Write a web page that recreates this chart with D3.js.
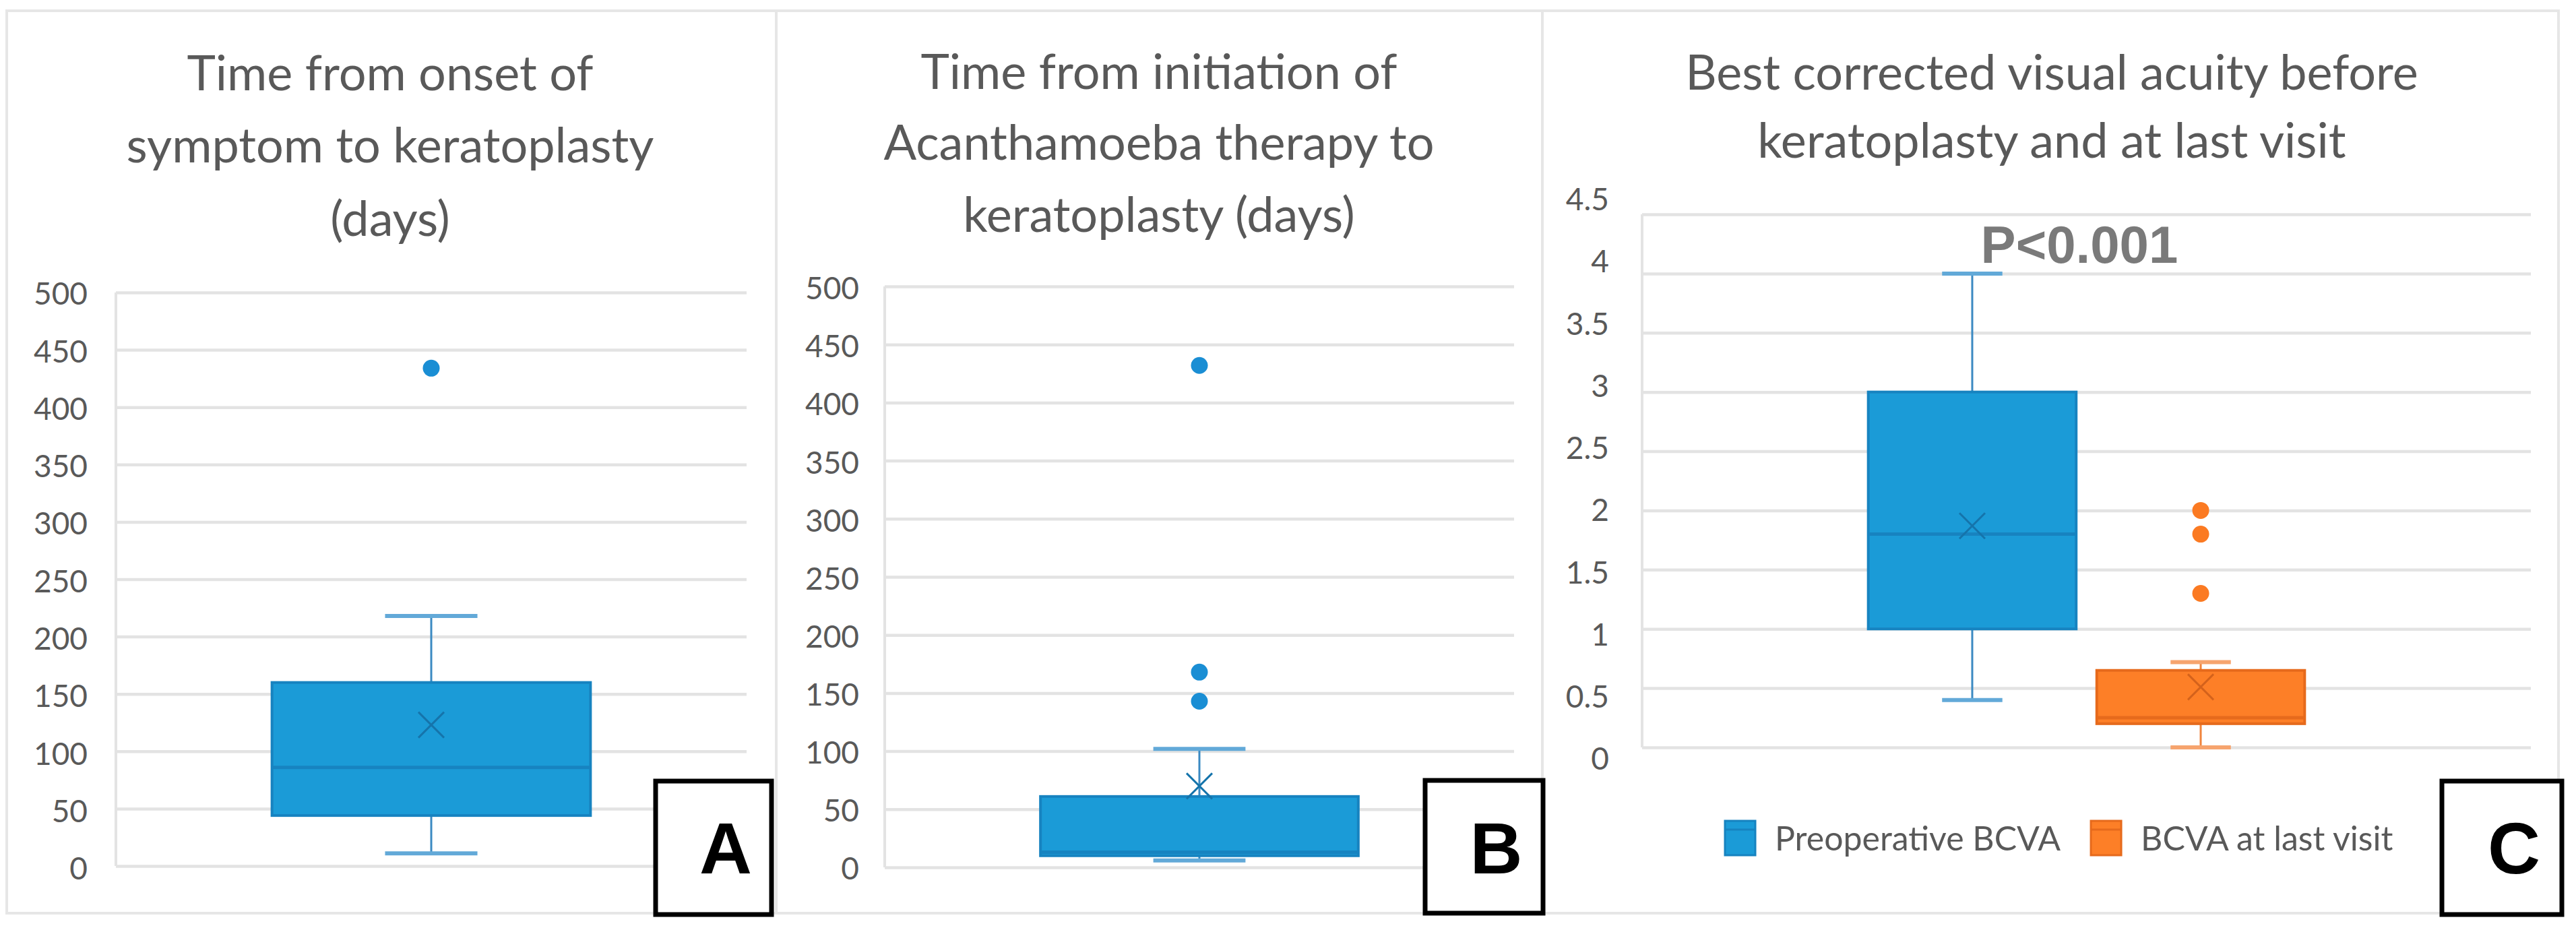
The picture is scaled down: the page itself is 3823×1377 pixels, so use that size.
<!DOCTYPE html>
<html>
<head>
  <meta charset="UTF-8">
  <style>
    body { margin: 0; background: #fff; }
    svg text { font-family: Lato, "Open Sans", sans-serif; }
  </style>
</head>
<body>
<svg></svg>
<script src="https://d3js.org/d3.v7.min.js"></script>
<script>

    let width = 3823;
    let height = 1377;

    // ---- data ----
    // order of each stats array: min, q1, median, q3, max, mean
    let onsetStats = [11, 44, 86, 160, 218, 123];
    let onsetOutliers = [434];
    let therapyStats = [6, 10, 13, 61, 102, 70];
    let therapyOutliers = [143, 168, 432];
    let bcvaSeries = ["Preoperative BCVA", "BCVA at last visit"];
    let preopStats = [0.4, 1.0, 1.8, 3.0, 4.0, 1.87];
    let preopOutliers = [];
    let lastVisitStats = [0, 0.2, 0.25, 0.65, 0.72, 0.51];
    let lastVisitOutliers = [1.3, 1.8, 2.0];
    let dayTicks = [0, 50, 100, 150, 200, 250, 300, 350, 400, 450, 500];
    let bcvaTicks = [0, 0.5, 1, 1.5, 2, 2.5, 3, 3.5, 4, 4.5];
    let titleA = ["Time from onset of", "symptom to keratoplasty", "(days)"];
    let titleB = ["Time from initiation of", "Acanthamoeba therapy to", "keratoplasty (days)"];
    let titleC = ["Best corrected visual acuity before", "keratoplasty and at last visit"];
    let panelLetters = ["A", "B", "C"];
    let pText = "P<0.001";

    let blue = {fill: "#1b9bd7", dark: "#1783c0", whisker: "#3b8ac2", cap: "#62a9d8", dot: "#1a8ed4", mean: "#1574ab"};
    let orange = {fill: "#fd7f27", dark: "#e66a1c", whisker: "#f0843c", cap: "#f6a46e", dot: "#fb7a22", mean: "#d4621b"};

    let svg = d3.select("svg")
        .attr("width", width)
        .attr("height", height);

    svg.append("rect").attr("width", width).attr("height", height).attr("fill", "#fff");

    let panels = [
      {frame: [10, 16, 1152, 1355], px: [172, 1108], py: [1285, 434], ly: [1290, 437], pad: 42,
       domain: [0, 500], ticks: dayTicks, title: titleA, tx: 579, tb: [134, 241, 350],
       letterBox: [973, 1159, 1145, 1357]},
      {frame: [1152, 16, 2289, 1355], px: [1313, 2247], py: [1287, 425], ly: [1290, 429], pad: 38,
       domain: [0, 500], ticks: dayTicks, title: titleB, tx: 1720, tb: [132, 237, 344],
       letterBox: [2115, 1158, 2290, 1355]},
      {frame: [2289, 16, 3797, 1355], px: [2437, 3756], py: [1109, 318], ly: [1127, 297], pad: 49,
       domain: [0, 4.5], ticks: bcvaTicks, title: titleC, tx: 3045, tb: [133, 234],
       letterBox: [3624, 1159, 3802, 1357]}
    ];

    panels.forEach(p => {
      let g = svg.append("g");
      // panel frame
      g.append("rect")
        .attr("x", p.frame[0]).attr("y", p.frame[1])
        .attr("width", p.frame[2] - p.frame[0]).attr("height", p.frame[3] - p.frame[1])
        .attr("fill", "none").attr("stroke", "#e6e6e6").attr("stroke-width", 4);

      p.y = d3.scaleLinear().domain(p.domain).range(p.py);
      let yLab = d3.scaleLinear().domain(p.domain).range(p.ly);

      // gridlines
      let grid = g.append("g")
        .attr("transform", "translate(" + p.px[0] + ",0)")
        .call(d3.axisLeft(p.y).tickValues(p.ticks).tickSize(-(p.px[1] - p.px[0])).tickFormat(""));
      grid.select(".domain").remove();
      grid.selectAll("line").attr("stroke", "#e3e3e3").attr("stroke-width", 4.5);

      // vertical axis line
      g.append("line")
        .attr("x1", p.px[0]).attr("x2", p.px[0])
        .attr("y1", p.y(p.domain[1])).attr("y2", p.y(0))
        .attr("stroke", "#e3e3e3").attr("stroke-width", 4);

      // tick labels
      let labs = g.append("g")
        .attr("transform", "translate(" + p.px[0] + ",0)")
        .call(d3.axisLeft(yLab).tickValues(p.ticks).tickSize(0).tickPadding(p.pad).tickFormat(d => d));
      labs.select(".domain").remove();
      labs.selectAll("text")
        .attr("fill", "#595959")
        .style("font-size", "46px")
        .style("font-family", "Lato, sans-serif");

      // title
      g.selectAll(".title")
        .data(p.title)
        .enter()
        .append("text")
        .attr("x", p.tx)
        .attr("y", (d, i) => p.tb[i])
        .attr("text-anchor", "middle")
        .attr("fill", "#595959")
        .style("font-size", "72px")
        .text(d => d);

      p.g = g;
    });

    function drawBox(g, y, cx, bw, stats, outliers, c) {
      let [mn, q1, med, q3, mx, mean] = stats;
      let cw = bw * 0.29;
      // whiskers
      g.append("line").attr("x1", cx).attr("x2", cx).attr("y1", y(mx)).attr("y2", y(q3))
        .attr("stroke", c.whisker).attr("stroke-width", 3);
      g.append("line").attr("x1", cx).attr("x2", cx).attr("y1", y(q1)).attr("y2", y(mn))
        .attr("stroke", c.whisker).attr("stroke-width", 3);
      [mn, mx].forEach(v => {
        g.append("line").attr("x1", cx - cw / 2).attr("x2", cx + cw / 2).attr("y1", y(v)).attr("y2", y(v))
          .attr("stroke", c.cap).attr("stroke-width", 6);
      });
      // box
      g.append("rect")
        .attr("x", cx - bw / 2).attr("y", y(q3))
        .attr("width", bw).attr("height", y(q1) - y(q3))
        .attr("fill", c.fill).attr("stroke", c.dark).attr("stroke-width", 4);
      // median
      g.append("line").attr("x1", cx - bw / 2).attr("x2", cx + bw / 2).attr("y1", y(med)).attr("y2", y(med))
        .attr("stroke", c.dark).attr("stroke-width", 5);
      // mean marker
      let s = 19;
      g.append("path")
        .attr("d", "M" + (cx - s) + "," + (y(mean) - s) + "L" + (cx + s) + "," + (y(mean) + s) +
                   "M" + (cx + s) + "," + (y(mean) - s) + "L" + (cx - s) + "," + (y(mean) + s))
        .attr("stroke", c.mean).attr("stroke-width", 3).attr("fill", "none");
      // outliers
      g.selectAll(null)
        .data(outliers)
        .enter()
        .append("circle")
        .attr("cx", cx).attr("cy", d => y(d)).attr("r", 12.5)
        .attr("fill", c.dot);
    }

    // panels A and B: one box each
    [[panels[0], onsetStats, onsetOutliers], [panels[1], therapyStats, therapyOutliers]].forEach(([p, st, out]) => {
      let x = d3.scaleBand().domain(["all"]).range(p.px);
      drawBox(p.g, p.y, x("all") + x.bandwidth() / 2, x.bandwidth() * 0.505, st, out, blue);
    });

    // panel C: two series
    let pc = panels[2];
    let xc = d3.scaleBand().domain(bcvaSeries).range(pc.px).paddingInner(0.09).paddingOuter(0.99);
    let cStats = [preopStats, lastVisitStats];
    let cOut = [preopOutliers, lastVisitOutliers];
    let cCols = [blue, orange];
    bcvaSeries.forEach((s, i) => {
      drawBox(pc.g, pc.y, xc(s) + xc.bandwidth() / 2, xc.bandwidth(), cStats[i], cOut[i], cCols[i]);
    });

    // P value
    pc.g.append("text")
      .attr("x", 3086).attr("y", 390)
      .attr("text-anchor", "middle")
      .attr("fill", "#7a7a7a")
      .style("font-family", "'Liberation Sans', Arial, sans-serif")
      .style("font-weight", "bold")
      .style("font-size", "78px")
      .text(pText);

    // legend
    let legend = pc.g.append("g").attr("transform", "translate(2560,1218)");
    let lx = 0;
    bcvaSeries.forEach((s, i) => {
      let item = legend.append("g").attr("transform", "translate(" + lx + ",0)");
      item.append("rect").attr("width", 45).attr("height", 51)
        .attr("fill", cCols[i].fill).attr("stroke", cCols[i].dark).attr("stroke-width", 3);
      item.append("line").attr("x1", 0).attr("x2", 45).attr("y1", 13).attr("y2", 13)
        .attr("stroke", cCols[i].dark).attr("stroke-width", 3);
      let t = item.append("text").attr("x", 74).attr("y", 44)
        .attr("fill", "#595959").style("font-size", "50px").text(s);
      lx += 74 + t.node().getComputedTextLength() + 45;
    });

    // panel letter boxes
    panels.forEach((p, i) => {
      let b = p.letterBox;
      svg.append("rect")
        .attr("x", b[0]).attr("y", b[1]).attr("width", b[2] - b[0]).attr("height", b[3] - b[1])
        .attr("fill", "#fff").attr("stroke", "#000").attr("stroke-width", 7);
      svg.append("text")
        .attr("x", (b[0] + b[2]) / 2 + 18).attr("y", 1296)
        .attr("text-anchor", "middle")
        .style("font-family", "'Liberation Sans', Arial, sans-serif")
        .style("font-weight", "bold")
        .style("font-size", "108px")
        .attr("fill", "#000")
        .text(panelLetters[i]);
    });

</script>
</body>
</html>
